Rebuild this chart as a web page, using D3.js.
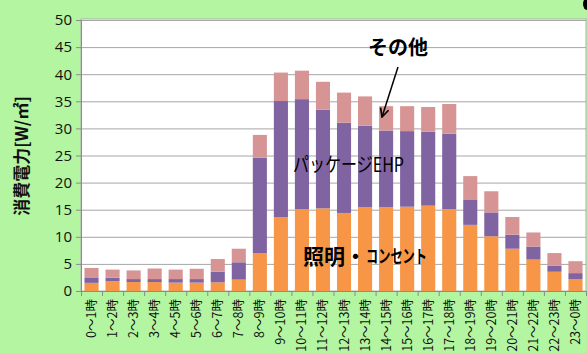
<!DOCTYPE html>
<html>
<head>
<meta charset="utf-8">
<script src="https://cdn.jsdelivr.net/npm/d3@7"></script>
<style>
  body { margin: 0; background: #b3f5a0; }
  svg { display: block; font-family: "Noto Sans CJK JP", "Noto Sans", sans-serif; }
</style>
</head>
<body>
<svg id="chart"></svg>
<script>
// chart size and plot area
const width = 587;
const height = 353;
const margin = { left: 81, right: 1, top: 20, bottom: 62 };

// data (W/m2)
const hours = ['0～1時', '1～2時', '2～3時', '3～4時', '4～5時', '5～6時', '6～7時', '7～8時',
    '8～9時', '9～10時', '10～11時', '11～12時', '12～13時', '13～14時', '14～15時', '15～16時',
    '16～17時', '17～18時', '18～19時', '19～20時', '20～21時', '21～22時', '22～23時', '23～0時'];
const lighting = [1.5, 1.8, 1.65, 1.65, 1.55, 1.55, 1.6, 2.1, 7.0, 13.65, 15.1, 15.25,
    14.4, 15.5, 15.5, 15.55, 15.75, 15.1, 12.2, 10.1, 7.8, 5.8, 3.55, 2.2];
const ehp = [0.9, 0.65, 0.55, 0.55, 0.65, 0.65, 1.95, 3.2, 17.6, 21.4, 20.3, 18.2,
    16.65, 15.0, 14.1, 13.95, 13.65, 13.9, 4.7, 4.4, 2.6, 2.4, 1.15, 1.1];
const other = [1.85, 1.5, 1.6, 1.95, 1.75, 1.9, 2.35, 2.5, 4.2, 5.25, 5.25, 5.15,
    5.55, 5.4, 4.5, 4.6, 4.55, 5.5, 4.3, 3.9, 3.25, 2.6, 2.3, 2.2];
const yTicks = [0, 5, 10, 15, 20, 25, 30, 35, 40, 45, 50];

const series = ['lighting', 'ehp', 'other'];
const colors = { lighting: '#f79646', ehp: '#8064a2', other: '#d69594' };

const rows = hours.map((h, i) => ({ hour: h, lighting: lighting[i], ehp: ehp[i], other: other[i] }));

const svg = d3.select('#chart').attr('width', width).attr('height', height);
svg.append('rect').attr('width', width).attr('height', height).attr('fill', '#b3f5a0');

const plotW = width - margin.left - margin.right;
const plotH = height - margin.top - margin.bottom;

const x = d3.scaleBand().domain(hours).range([margin.left, margin.left + plotW]).paddingInner(0.33).paddingOuter(0.165);
const y = d3.scaleLinear().domain([0, 50]).range([margin.top + plotH, margin.top]);

// plot background
svg.append('rect')
    .attr('x', margin.left).attr('y', margin.top - 1)
    .attr('width', plotW).attr('height', plotH + 1)
    .attr('fill', 'white').attr('stroke', '#b0b0b0');

// gridlines
svg.append('g').selectAll('line')
    .data(yTicks.filter(d => d > 0))
    .enter().append('line')
    .attr('x1', margin.left).attr('x2', margin.left + plotW)
    .attr('y1', d => y(d) + 0.5).attr('y2', d => y(d) + 0.5)
    .attr('stroke', '#a6a6a6');

// stacked bars
const stack = d3.stack().keys(series)(rows);
svg.append('g').selectAll('g')
    .data(stack)
    .enter().append('g')
    .attr('fill', d => colors[d.key])
    .selectAll('rect')
    .data(d => d)
    .enter().append('rect')
    .attr('x', d => x(d.data.hour))
    .attr('width', x.bandwidth())
    .attr('y', d => y(d[1]))
    .attr('height', d => y(d[0]) - y(d[1]));

// y axis
const yAxis = svg.append('g')
    .attr('transform', `translate(${margin.left},0)`)
    .call(d3.axisLeft(y).tickValues(yTicks).tickSize(5).tickPadding(4));
yAxis.select('.domain').attr('stroke', '#8c8c8c');
yAxis.selectAll('.tick line').attr('stroke', '#8c8c8c');
yAxis.selectAll('text').attr('font-family', 'Open Sans, Noto Sans, sans-serif').attr('font-size', 15).attr('fill', '#111');

// x axis with ticks between categories
const baseY = y(0);
svg.append('line')
    .attr('x1', margin.left).attr('x2', margin.left + plotW)
    .attr('y1', baseY + 0.5).attr('y2', baseY + 0.5)
    .attr('stroke', '#8c8c8c');
svg.append('g').selectAll('line')
    .data(d3.range(hours.length + 1))
    .enter().append('line')
    .attr('x1', i => margin.left + i * x.step() + 0.5)
    .attr('x2', i => margin.left + i * x.step() + 0.5)
    .attr('y1', baseY).attr('y2', baseY + 5)
    .attr('stroke', '#8c8c8c');
svg.append('g').selectAll('text')
    .data(hours)
    .enter().append('text')
    .attr('transform', d => `translate(${x(d) + x.bandwidth() / 2 + 4.5},${baseY + 8}) rotate(-90)`)
    .attr('text-anchor', 'end')
    .attr('font-size', 12.5)
    .attr('fill', '#111')
    .text(d => d);

// y axis title
svg.append('text')
    .attr('transform', 'translate(28,156) rotate(-90)')
    .attr('text-anchor', 'middle')
    .attr('font-size', 17)
    .attr('font-weight', 'bold')
    .attr('fill', '#111')
    .text('消費電力[W/㎡]');

// annotations
svg.append('text')
    .attr('x', 398).attr('y', 55)
    .attr('text-anchor', 'middle')
    .attr('font-size', 20).attr('font-weight', 'bold')
    .text('その他');

svg.append('defs').append('marker')
    .attr('id', 'arrow').attr('viewBox', '0 0 10 10')
    .attr('refX', 9).attr('refY', 5)
    .attr('markerWidth', 7).attr('markerHeight', 7)
    .attr('orient', 'auto')
    .append('path').attr('d', 'M1,1 L9,5 L1,9').attr('fill', 'none').attr('stroke', '#000').attr('stroke-width', 1.6);
svg.append('line')
    .attr('x1', 398).attr('y1', 67).attr('x2', 382).attr('y2', 117)
    .attr('stroke', '#000').attr('stroke-width', 1.5)
    .attr('marker-end', 'url(#arrow)');

svg.append('text')
    .attr('x', 293).attr('y', 172)
    .attr('font-size', 20)
    .attr('fill', '#000')
    .attr('textLength', 111)
    .attr('lengthAdjust', 'spacingAndGlyphs')
    .text('パッケージEHP');

svg.append('text')
    .attr('x', 303).attr('y', 264)
    .attr('font-size', 21).attr('font-weight', 'bold')
    .attr('fill', '#000')
    .text('照明・');
svg.append('text')
    .attr('x', 366).attr('y', 263)
    .attr('font-size', 18).attr('font-weight', 'bold')
    .attr('fill', '#000')
    .attr('textLength', 61)
    .attr('lengthAdjust', 'spacingAndGlyphs')
    .text('コンセント');

// small dark mark cut off at the top right corner
svg.append('ellipse').attr('cx', 587).attr('cy', 4).attr('rx', 4).attr('ry', 6).attr('fill', '#000');
</script>
</body>
</html>
